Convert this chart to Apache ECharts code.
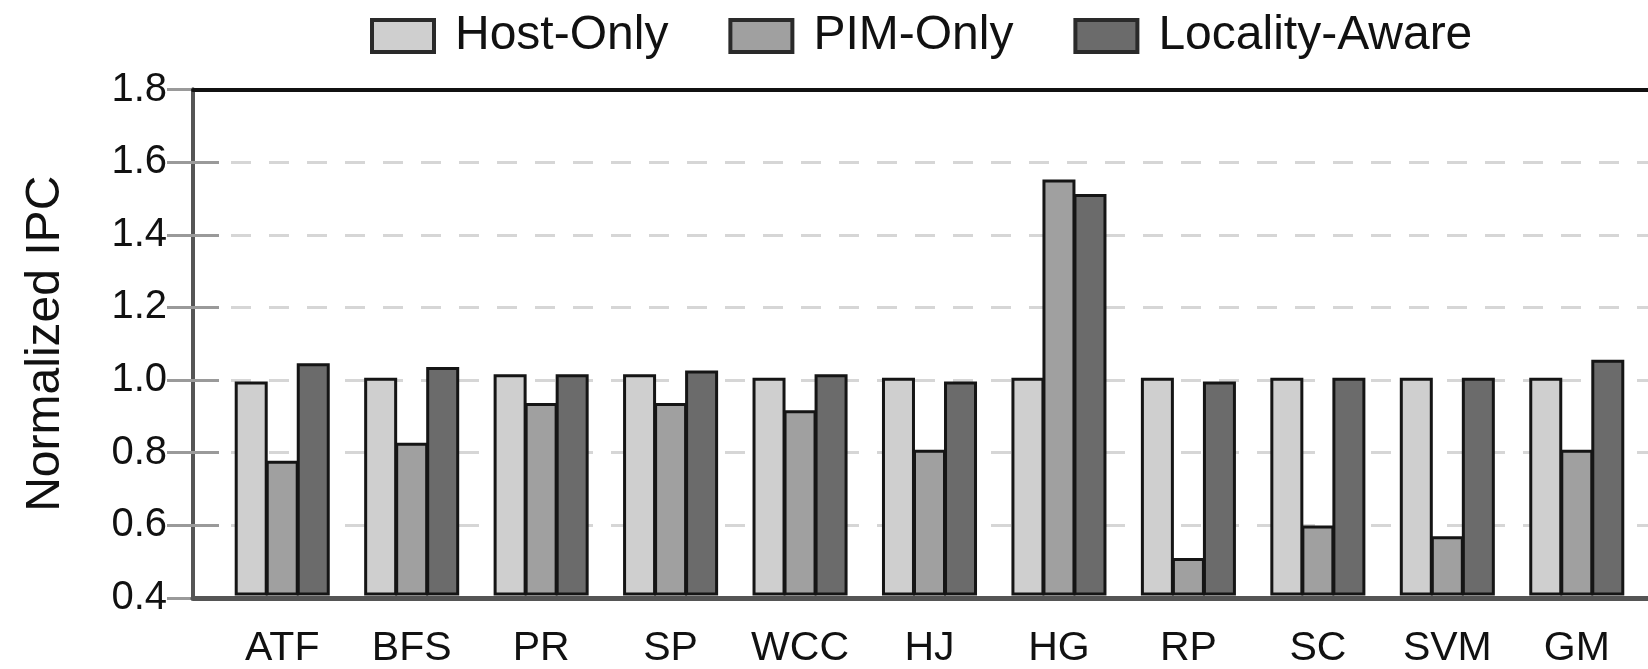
<!DOCTYPE html>
<html>
<head>
<meta charset="utf-8">
<title>Normalized IPC</title>
<script src="https://cdn.jsdelivr.net/npm/echarts@6/dist/echarts.min.js"></script>
<style>
  html, body { margin: 0; padding: 0; background: #ffffff; }
  #chart { width: 1648px; height: 669px; }
</style>
</head>
<body>
<div id="chart"></div>
<script>
// Workloads on the x axis
const categories = ['ATF', 'BFS', 'PR', 'SP', 'WCC', 'HJ', 'HG', 'RP', 'SC', 'SVM', 'GM'];

// Normalized IPC per configuration
const hostOnly      = [0.99, 1.00, 1.01, 1.01, 1.00, 1.00, 1.00, 1.00, 1.00, 1.00, 1.00];
const pimOnly       = [0.77, 0.82, 0.93, 0.93, 0.91, 0.80, 1.55, 0.50, 0.59, 0.56, 0.80];
const localityAware = [1.04, 1.03, 1.01, 1.02, 1.01, 0.99, 1.51, 0.99, 1.00, 1.00, 1.05];

const seriesNames = ['Host-Only', 'PIM-Only', 'Locality-Aware'];
const yMin = 0.4, yMax = 1.8, yStep = 0.2;

const FONT = '"Liberation Sans", Arial, Helvetica, sans-serif';
const chart = echarts.init(document.getElementById('chart'), null, { renderer: 'canvas' });

// Frame grid spans the full plot box (it runs past the right edge of the canvas);
// the bar grid is inset so the groups sit with some padding from the left axis.
const FRAME_LEFT = 193, FRAME_WIDTH = 1473;
const PAD = 24.5;
const TOP = 89.5, BOTTOM = 71;

function barSeries(name, data, color) {
  return {
    name: name,
    type: 'bar',
    xAxisIndex: 2,
    yAxisIndex: 2,
    data: data,
    barWidth: 33,
    barGap: '-6%',
    itemStyle: { color: color, borderColor: '#151515', borderWidth: 3 },
    emphasis: { disabled: true }
  };
}

chart.setOption({
  animation: false,
  backgroundColor: '#ffffff',
  textStyle: { fontFamily: FONT },
  legend: {
    data: seriesNames,
    left: 365,
    top: 7,
    icon: 'rect',
    itemWidth: 62,
    itemHeight: 32,
    itemGap: 60,
    itemStyle: { borderColor: '#2a2a2a', borderWidth: 4 },
    textStyle: { fontSize: 48, color: '#111', fontFamily: FONT, padding: [0, 0, 0, 16] }
  },
  grid: [
    { left: FRAME_LEFT, width: FRAME_WIDTH, top: TOP, bottom: BOTTOM },
    { left: FRAME_LEFT + PAD, width: FRAME_WIDTH - 2 * PAD, top: TOP, bottom: BOTTOM }
  ],
  xAxis: [
    { // bottom frame line
      gridIndex: 0, type: 'value', min: 0, max: 1, position: 'bottom', z: 5,
      axisLine: { show: true, lineStyle: { color: '#555', width: 5 } },
      axisTick: { show: false }, axisLabel: { show: false }, splitLine: { show: false }
    },
    { // top frame line
      gridIndex: 0, type: 'value', min: 0, max: 1, position: 'top', z: 5,
      axisLine: { show: true, lineStyle: { color: '#111', width: 4 } },
      axisTick: { show: false }, axisLabel: { show: false }, splitLine: { show: false }
    },
    { // workload categories
      gridIndex: 1, type: 'category', data: categories, position: 'bottom',
      axisLine: { show: false }, axisTick: { show: false },
      axisLabel: { fontSize: 41, color: '#111', margin: 34, fontFamily: FONT }
    }
  ],
  yAxis: [
    {
      gridIndex: 0, type: 'value', min: yMin, max: yMax, interval: yStep, position: 'left',
      name: 'Normalized IPC', nameLocation: 'middle', nameGap: 123,
      nameTextStyle: { fontSize: 48, color: '#111', fontFamily: FONT },
      axisLine: { show: true, lineStyle: { color: '#5a5a5a', width: 4 } },
      axisTick: { show: true, inside: true, length: 26, lineStyle: { color: '#9a9a9a', width: 3 } },
      axisLabel: { fontSize: 40, color: '#111', margin: 26, fontFamily: FONT,
                   formatter: v => v.toFixed(1) },
      splitLine: { show: true, lineStyle: { color: '#d6d6d6', width: 3, type: [20, 18] } }
    },
    {
      gridIndex: 0, type: 'value', min: yMin, max: yMax, interval: yStep, position: 'right',
      axisLine: { show: true, lineStyle: { color: '#555', width: 4 } },
      axisTick: { show: true, inside: true, length: 26, lineStyle: { color: '#9a9a9a', width: 3 } },
      axisLabel: { show: false }, splitLine: { show: false }
    },
    {
      gridIndex: 1, type: 'value', min: yMin, max: yMax, interval: yStep, show: false,
      splitLine: { show: false }
    }
  ],
  series: [
    barSeries(seriesNames[0], hostOnly, '#cfcfcf'),
    barSeries(seriesNames[1], pimOnly, '#a0a0a0'),
    barSeries(seriesNames[2], localityAware, '#6b6b6b')
  ]
});
</script>
</body>
</html>
